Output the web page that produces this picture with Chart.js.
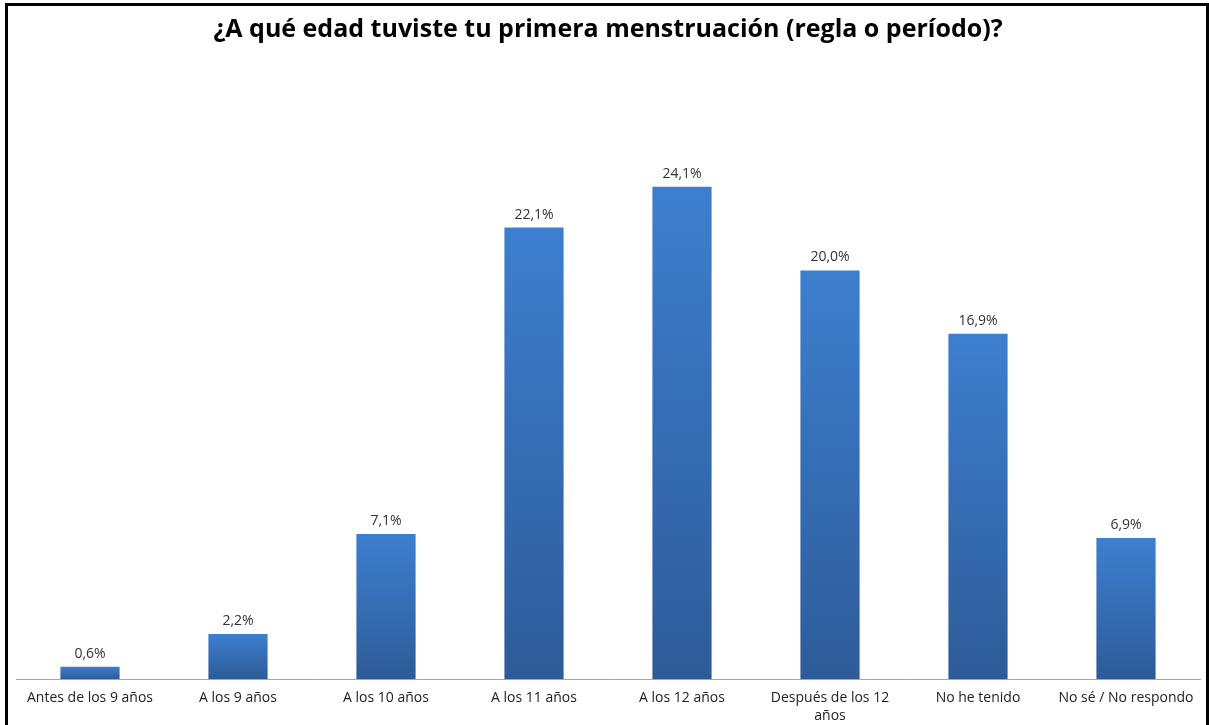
<!DOCTYPE html>
<html>
<head>
<meta charset="utf-8">
<script src="https://cdn.jsdelivr.net/npm/chart.js@4.4.1/dist/chart.umd.min.js"></script>
<style>
  html, body { margin: 0; padding: 0; background: #fff; overflow: hidden; }
  #frame { position: absolute; left: 5px; top: 3px; width: 1198px; height: 800px; border: 3px solid #000; }
  #wrap { position: absolute; left: 0; top: 0; width: 1209px; height: 725px; }
</style>
</head>
<body>
<div id="frame"></div>
<div id="wrap"><canvas id="chart"></canvas></div>
<script>
const categories = [
  'Antes de los 9 años',
  'A los 9 años',
  'A los 10 años',
  'A los 11 años',
  'A los 12 años',
  ['Después de los 12', 'años'],
  'No he tenido',
  'No sé / No respondo'
];
const percentages = [0.6, 2.2, 7.1, 22.1, 24.1, 20.0, 16.9, 6.9];
const valueLabels = ['0,6%', '2,2%', '7,1%', '22,1%', '24,1%', '20,0%', '16,9%', '6,9%'];

const FONT = '"Open Sans", Lato, sans-serif';

// bar gradient from light top to darker base, one per bar
function barFill(context) {
  const chart = context.chart;
  const area = chart.chartArea;
  if (!area || context.parsed === undefined) return '#3a78c6';
  const y = chart.scales.y;
  const top = y.getPixelForValue(context.parsed.y);
  const base = y.getPixelForValue(0);
  if (!(base > top)) return '#3a78c6';
  const g = chart.ctx.createLinearGradient(0, top, 0, base);
  g.addColorStop(0, '#3d7fcf');
  g.addColorStop(1, '#2e5b98');
  return g;
}

const valueLabelPlugin = {
  id: 'valueLabels',
  afterDatasetsDraw(chart) {
    const ctx = chart.ctx;
    const meta = chart.getDatasetMeta(0);
    ctx.save();
    ctx.font = '14px ' + FONT;
    ctx.fillStyle = '#333';
    ctx.textAlign = 'center';
    ctx.textBaseline = 'bottom';
    meta.data.forEach((bar, i) => {
      ctx.fillText(valueLabels[i], bar.x, bar.y - 6);
    });
    ctx.restore();
  }
};

new Chart(document.getElementById('chart'), {
  type: 'bar',
  data: {
    labels: categories,
    datasets: [{
      data: percentages,
      backgroundColor: barFill,
      borderWidth: 0,
      barPercentage: 0.4,
      categoryPercentage: 1
    }]
  },
  options: {
    responsive: true,
    maintainAspectRatio: false,
    animation: false,
    layout: { padding: { left: 16, right: 9, top: 0, bottom: 0 } },
    plugins: {
      legend: { display: false },
      tooltip: { enabled: false },
      title: {
        display: true,
        text: '¿A qué edad tuviste tu primera menstruación (regla o período)?',
        color: '#000',
        font: { family: FONT, size: 25, weight: 'bold' },
        padding: { top: 15, bottom: 62 }
      }
    },
    scales: {
      x: {
        grid: { display: false },
        border: { display: true, color: '#a6a6a6', width: 1 },
        ticks: {
          color: '#222',
          font: { family: FONT, size: 14, lineHeight: 1.3 },
          padding: 2,
          maxRotation: 0,
          autoSkip: false
        },
        afterFit(scale) { scale.height = 46; }
      },
      y: {
        display: false,
        min: 0,
        max: 28
      }
    }
  },
  plugins: [valueLabelPlugin]
});
</script>
</body>
</html>
